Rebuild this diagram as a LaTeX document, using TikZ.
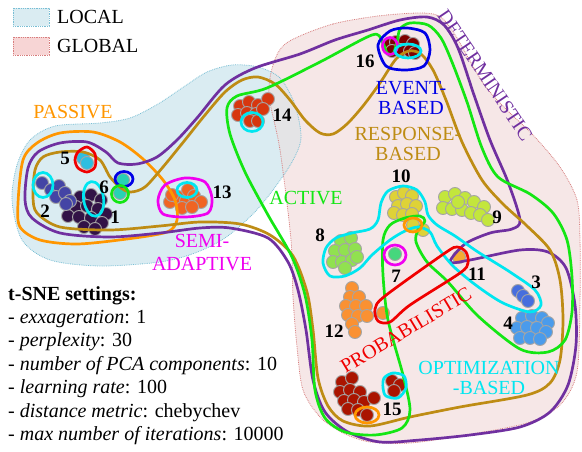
\documentclass[tikz,border=0pt]{standalone}
\usepackage{fontspec}
\setmainfont{Liberation Serif}
\usetikzlibrary{calc}
\definecolor{localfill}{RGB}{218,236,242}
\definecolor{localedge}{RGB}{120,190,212}
\definecolor{globalfill}{RGB}{246,231,231}
\definecolor{globaledge}{RGB}{215,125,125}
\definecolor{bothfill}{RGB}{228,228,230}
\definecolor{passive}{RGB}{255,150,0}
\definecolor{determ}{RGB}{112,48,160}
\definecolor{response}{RGB}{190,140,20}
\definecolor{active}{RGB}{20,230,20}
\definecolor{optim}{RGB}{0,230,240}
\definecolor{probab}{RGB}{240,0,0}
\definecolor{eventb}{RGB}{0,0,230}
\definecolor{semiad}{RGB}{240,0,240}
\definecolor{dotedge}{RGB}{165,165,165}
\definecolor{cA}{RGB}{50,18,70}
\definecolor{cB}{RGB}{68,68,165}
\definecolor{cC}{RGB}{70,110,222}
\definecolor{cD}{RGB}{75,155,235}
\definecolor{cE}{RGB}{45,190,225}
\definecolor{cF}{RGB}{40,210,180}
\definecolor{cG}{RGB}{70,215,125}
\definecolor{cH}{RGB}{145,225,80}
\definecolor{cI}{RGB}{195,230,60}
\definecolor{cJ}{RGB}{222,210,55}
\definecolor{cK}{RGB}{245,170,50}
\definecolor{cL}{RGB}{250,145,50}
\definecolor{cM}{RGB}{240,100,35}
\definecolor{cN}{RGB}{215,55,15}
\definecolor{cO}{RGB}{170,20,0}
\definecolor{cP}{RGB}{125,0,0}
% regions
\newcommand\localregion{plot[smooth cycle] coordinates {(12,200) (17,165) (30,140) (55,126) (100,123) (130,118) (158,104) (185,86) (207,72) (232,65) (258,67) (280,78) (295,105) (301,138) (292,162) (273,190) (253,214) (225,238) (195,253) (160,262) (100,266) (50,260) (22,240)}}
\newcommand\globalregion{plot[smooth cycle] coordinates {(288,42) (333,24) (387,15) (433,14) (452,30) (483,83) (507,110) (533,135) (560,167) (577,200) (580,240) (580,300) (577,372) (560,405) (527,423) (460,436) (410,443) (370,442) (343,433) (320,417) (303,390) (297,347) (293,297) (291,240) (280,150) (269,95) (274,62)}}
\newcommand\dotcluster[2]{\foreach \x/\y in {#2} \filldraw[dot=#1] (\x,\y) circle (6.5);}
\begin{document}
\begin{tikzpicture}[x=1pt,y=-1pt,
  dot/.style={fill=#1,draw=dotedge,line width=0.9pt},
  loop/.style={draw=#1,line width=2.7pt,line join=round},
  num/.style={font=\fontsize{19}{19}\selectfont\bfseries,inner sep=0},
  tag/.style={text=#1,font=\fontsize{20}{19.5}\selectfont,align=center,inner sep=0},
  region/.style={line width=0.8pt,densely dotted}]
\useasboundingbox (0,0) rectangle (582,452);

% LOCAL / GLOBAL areas
\fill[globalfill] \globalregion;
\fill[localfill] \localregion;
\begin{scope}
\clip \localregion;
\fill[bothfill] \globalregion;
\end{scope}
\draw[region,globaledge] \globalregion;
\draw[region,localedge] \localregion;

% legend
\draw[region,localedge,fill=localfill] (13,8) rectangle (49,26);
\draw[region,globaledge,fill=globalfill!92!red] (13,37) rectangle (49,55);
\node[anchor=west,font=\fontsize{20}{20}\selectfont,inner sep=0] (lloc) at (57,17) {LOCAL};
\node[anchor=west,font=\fontsize{20}{20}\selectfont,inner sep=0] (lglo) at (57,46) {GLOBAL};

% t-SNE points
\dotcluster{cA}{80/197,91/195,101/200,76/207,87/206,98/209,106/214,68/216,79/217,91/218,102/223,84/227,95/229}
\dotcluster{cB}{42/183,51/190,59/186,56/197,65/193,70/201,66/204}
\dotcluster{cE}{83/158,87/163}
\dotcluster{cF}{123/180,120/193}
\dotcluster{cM}{170/202,178/197,186/201,188/190,194/196,201/202,182/208,192/207,172/195}
\dotcluster{cN}{240/106,249/102,258/105,268/99,238/115,247/113,256/114,263/109,250/121,258/121}
\dotcluster{cP}{388/45,396/42,405/41,413/44,392/51,401/50,410/51,415/53}
\dotcluster{cJ}{396/197,404/193,412/196,398/206,407/204,416/206,394/213,403/215,412/214,413/225,423/230}
\dotcluster{cI}{445/197,455/194,465/198,474/202,484/207,443/208,452/209,462/210,471/213,480/215,488/220,458/202}
\dotcluster{cH}{341/241,351/238,335/251,345/250,355/249,333/262,342/262,352/260,345/268,357/257}
\dotcluster{cG}{395/254}
\dotcluster{cK}{459/257}
\dotcluster{cC}{518/291,523/296,528/301}
\dotcluster{cD}{522/318,532/316,542/318,548/323,517/328,527/327,537/328,546/332,520/338,530/338,540/339}
\dotcluster{cL}{352/288,350/297,359/297,346/306,356/306,366/306,348/315,358/316,367/316,352/324,355/332,383/313}
\dotcluster{cO}{342/382,352/378,340/392,350/390,360/392,344/401,354/400,364/402,374/398,348/409,358/410,367/415,392/381,400/385,394/391}

% big groupings
\draw[loop=passive] plot[smooth cycle] coordinates {(18,203) (23,160) (37,143) (60,133) (93,132) (120,142) (143,159) (163,180) (175,200) (177,220) (167,232) (127,239) (77,244) (40,240) (20,227)};
\draw[loop=determ] plot[smooth cycle] coordinates {(25,200) (28,168) (38,152) (60,143) (87,142) (106,152) (118,163) (137,164) (157,157) (177,140) (197,118) (225,85) (255,68) (300,54) (335,40) (368,30) (400,20) (427,17) (444,25) (458,48) (474,95) (490,140) (508,182) (520,220) (512,229) (490,233) (465,244) (450,262) (470,260) (520,250) (548,252) (566,268) (575,305) (576,345) (568,385) (550,412) (520,427) (470,435) (420,440) (380,442) (348,432) (325,412) (313,380) (306,330) (298,290) (288,262) (268,238) (230,228) (200,228) (160,233) (110,237) (60,233) (32,218)};
\draw[loop=response] plot[smooth cycle] coordinates {(33,197) (35,170) (43,157) (60,152) (83,152) (100,160) (110,177) (121,188) (131,192) (145,187) (163,167) (185,140) (205,115) (225,92) (242,80) (258,77) (275,84) (290,100) (305,120) (320,133) (333,134) (347,124) (363,106) (380,83) (396,59) (409,51) (421,54) (433,70) (446,100) (462,142) (482,180) (503,204) (526,225) (550,250) (560,280) (563,320) (560,360) (550,383) (527,395) (460,407) (410,417) (370,426) (343,421) (328,406) (318,378) (313,330) (307,292) (293,256) (270,235) (240,224) (200,222) (160,226) (110,230) (60,227) (37,213)};
\draw[loop=active] plot[smooth cycle] coordinates {(237,96) (267,88) (320,62) (372,35) (382,41) (387,53) (393,54) (397,42) (400,29) (410,23) (428,25) (441,38) (452,62) (467,102) (482,148) (498,177) (530,194) (553,213) (567,240) (572,277) (572,312) (565,340) (548,352) (520,349) (478,316) (448,282) (427,262) (416,242) (418,230) (425,221) (420,216) (405,218) (390,225) (383,240) (383,275) (388,320) (403,375) (410,410) (402,428) (375,435) (345,432) (325,418) (315,390) (312,340) (305,295) (292,257) (268,215) (245,172) (230,134) (227,108)};
\draw[loop=optim] plot[smooth cycle] coordinates {(323,263) (326,248) (336,238) (352,233) (370,229) (378,220) (381,203) (388,191) (403,186) (417,190) (425,202) (428,215) (437,225) (455,236) (478,252) (510,272) (535,290) (541,305) (530,312) (503,303) (477,286) (453,266) (437,246) (430,232) (418,227) (405,231) (390,240) (372,255) (360,268) (345,276) (330,276)};
\draw[loop=probab] plot[smooth cycle] coordinates {(375,309) (385,296) (445,253) (457,247) (466,252) (468,263) (460,273) (410,305) (390,322) (378,321)};

% small groupings
\draw[loop=probab] plot[smooth cycle] coordinates {(78,152) (87,147) (95,154) (95,167) (87,172) (78,168) (75,160)};
\draw[loop=eventb] (124,179) ellipse (9 and 7.5);
\draw[loop=active] (120,194) ellipse (8.5 and 8.5);
\draw[loop=optim] (43,185) ellipse (10 and 12.5);
\draw[loop=optim] (65,210) [rotate=8] ellipse (10 and 17.5);
\draw[loop=semiad] plot[smooth cycle] coordinates {(165,185) (185,178) (205,182) (212,198) (208,213) (185,217) (163,214) (158,200)};
\draw[loop=optim] (187,190) ellipse (10 and 7.5);
\draw[loop=optim] (252,122) ellipse (11 and 9.5);
\draw[loop=eventb] plot[smooth cycle] coordinates {(378,45) (390,31) (407,28) (425,33) (430,50) (424,66) (405,70) (386,66)};
\draw[loop=semiad] (390,46) ellipse (7.5 and 8.5);
\draw[loop=optim] (408,51) ellipse (13 and 7);
\draw[loop=passive] (413,225) ellipse (9 and 7);
\draw[loop=semiad] (395,255) ellipse (11 and 10);
\draw[loop=optim] plot[smooth cycle] coordinates {(384,378) (393,373) (404,376) (406,388) (398,398) (386,396) (383,388)};
\draw[loop=passive] (367,415) ellipse (12 and 8);

% cluster numbers
\node[num] (n1) at (115,217) {1};
\node[num] (n2) at (45,211) {2};
\node[num] (n3) at (536,282) {3};
\node[num] (n4) at (508,323) {4};
\node[num] (n5) at (65,158) {5};
\node[num] (n6) at (104,187) {6};
\node[num] (n7) at (396,276) {7};
\node[num] (n8) at (320,235) {8};
\node[num] (n9) at (497,217) {9};
\node[num] (n10) at (401,176) {10};
\node[num] (n11) at (477,274) {11};
\node[num] (n12) at (334,331) {12};
\node[num] (n13) at (222,192) {13};
\node[num] (n14) at (282,115) {14};
\node[num] (n15) at (392,409) {15};
\node[num] (n16) at (365,61) {16};

% group names
\node[tag=passive] (tpas) at (73,112) {PASSIVE};
\node[tag=semiad,font=\fontsize{20}{23}\selectfont] (tsem) at (202,253) {SEMI-\\ADAPTIVE};
\node[tag=active] (tact) at (306,198) {ACTIVE};
\node[tag=eventb] (tevt) at (411,98) {EVENT-\\BASED};
\node[tag=response] (tres) at (408,144) {RESPONSE-\\BASED};
\node[tag=determ,rotate=-56] (tdet) at (485,75) {DETERMINISTIC};
\node[tag=probab,rotate=31] (tpro) at (406,330) {PROBABILISTIC};
\node[tag=optim] (topt) at (489,378) {OPTIMIZATION\\-BASED};

% settings
\node[anchor=north west,align=left,inner sep=0,font=\fontsize{20}{23.4}\selectfont] (tsne) at (8,286)
 {\textbf{t-SNE settings:}\\
  - \textit{exxageration}: 1\\
  - \textit{perplexity}: 30\\
  - \textit{number of PCA components}: 10\\
  - \textit{learning rate}: 100\\
  - \textit{distance metric}: chebychev\\
  - \textit{max number of iterations}: 10000};
\end{tikzpicture}
\end{document}
